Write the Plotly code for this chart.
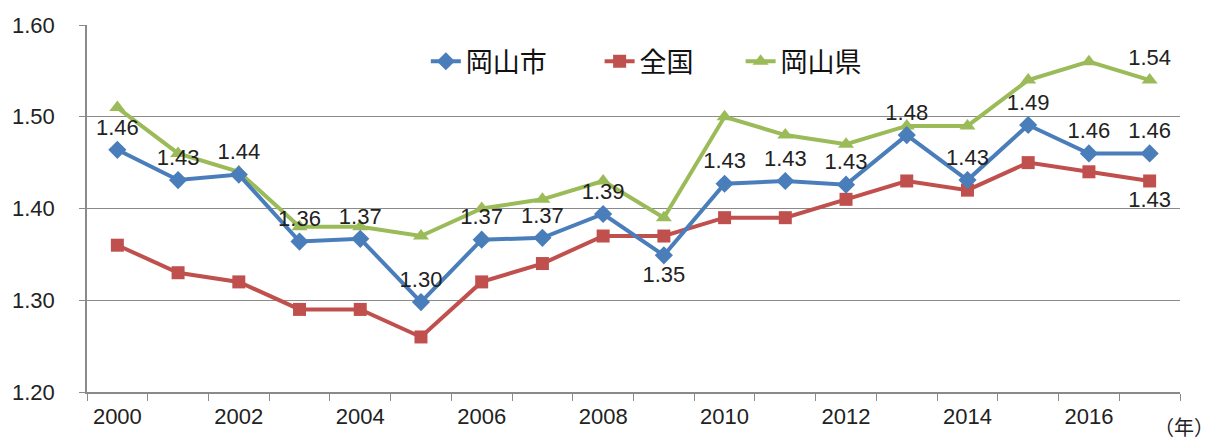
import plotly.graph_objects as go

years = list(range(2000, 2018))
okayama_city = [1.464, 1.431, 1.437, 1.364, 1.367, 1.298, 1.366, 1.368, 1.394, 1.349,
                1.427, 1.430, 1.426, 1.480, 1.431, 1.491, 1.460, 1.460]
national = [1.36, 1.33, 1.32, 1.29, 1.29, 1.26, 1.32, 1.34, 1.37, 1.37,
            1.39, 1.39, 1.41, 1.43, 1.42, 1.45, 1.44, 1.43]
okayama_pref = [1.51, 1.46, 1.44, 1.38, 1.38, 1.37, 1.40, 1.41, 1.43, 1.39,
                1.50, 1.48, 1.47, 1.49, 1.49, 1.54, 1.56, 1.54]
series_names = ["岡山市", "全国", "岡山県"]
x_tick_years = [2000, 2002, 2004, 2006, 2008, 2010, 2012, 2014, 2016]
y_ticks = [1.20, 1.30, 1.40, 1.50, 1.60]

NUM_FONT = "Liberation Sans, Arial, sans-serif"
JP_FONT = "Noto Sans CJK JP"
FS = 22

blue, red, green = "#4A7EBB", "#C0504D", "#9BBB59"

city_text = [f"{v:.2f}" for v in okayama_city]
city_pos = ["bottom center" if y == 2009 else "top center" for y in years]
nat_text = [f"{v:.2f}" if y == years[-1] else "" for y, v in zip(years, national)]
pref_text = [f"{v:.2f}" if y == years[-1] else "" for y, v in zip(years, okayama_pref)]

fig = go.Figure()
fig.add_trace(go.Scatter(
    x=years, y=okayama_pref, name=series_names[2], mode="lines+markers+text",
    line=dict(color=green, width=4),
    marker=dict(symbol="triangle-up", size=14, color=green),
    text=pref_text, textposition="top center",
    textfont=dict(family=NUM_FONT, size=FS, color="#222"),
    legend="legend3",
))
fig.add_trace(go.Scatter(
    x=years, y=national, name=series_names[1], mode="lines+markers+text",
    line=dict(color=red, width=4),
    marker=dict(symbol="square", size=13, color=red),
    text=nat_text, textposition="bottom center",
    textfont=dict(family=NUM_FONT, size=FS, color="#222"),
    legend="legend2",
))
fig.add_trace(go.Scatter(
    x=years, y=okayama_city, name=series_names[0], mode="lines+markers+text",
    line=dict(color=blue, width=4),
    marker=dict(symbol="diamond", size=14, color=blue),
    text=city_text, textposition=city_pos,
    textfont=dict(family=NUM_FONT, size=FS, color="#222"),
    legend="legend",
))

leg_common = dict(orientation="h", y=0.9, xanchor="left", yanchor="middle",
                  font=dict(family=JP_FONT, size=27, color="#111"),
                  bgcolor="rgba(255,255,255,0)")
fig.update_layout(
    width=1208, height=437,
    margin=dict(l=79, r=36, t=17, b=53, autoexpand=False),
    plot_bgcolor="white", paper_bgcolor="white",
    showlegend=True,
    legend=dict(x=0.310, **leg_common),
    legend2=dict(x=0.469, **leg_common),
    legend3=dict(x=0.598, **leg_common),
    font=dict(family=NUM_FONT, color="#222"),
)
fig.update_xaxes(
    range=[1999.5, 2017.5], tickmode="array", tickvals=x_tick_years,
    ticktext=[str(y) for y in x_tick_years], ticks="", showgrid=False,
    showline=True, linecolor="#8a8a8a", linewidth=1.5,
    tickfont=dict(family=NUM_FONT, size=FS, color="#222"),
    ticklabelstandoff=4, automargin=False,
    minor=dict(tickmode="linear", tick0=1999.5, dtick=1, ticks="outside",
               ticklen=7, tickcolor="#8a8a8a", showgrid=False),
    zeroline=False,
)
fig.update_yaxes(
    range=[1.20, 1.60], tickmode="array", tickvals=y_ticks,
    ticktext=[f"{v:.2f}" for v in y_ticks],
    ticks="outside", ticklen=6, tickcolor="#8a8a8a",
    showgrid=True, gridcolor="#8a8a8a", gridwidth=1.2,
    showline=True, linecolor="#8a8a8a", linewidth=1.5,
    tickfont=dict(family=NUM_FONT, size=FS, color="#222"),
    ticklabelstandoff=20, zeroline=False, automargin=False,
)
fig.add_annotation(text="（年）", xref="paper", yref="paper", x=1.004, y=-0.095,
                   xanchor="center", yanchor="middle", showarrow=False,
                   font=dict(family=JP_FONT, size=20, color="#222"))

fig.write_html("out.html")
